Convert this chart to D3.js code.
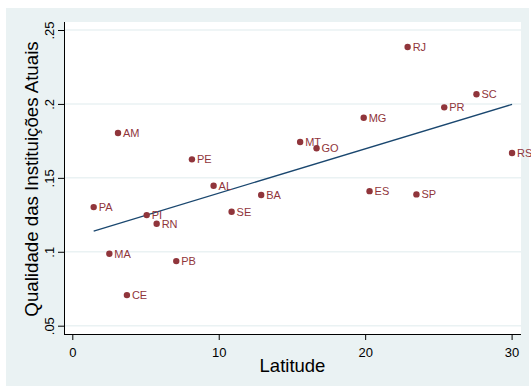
<!DOCTYPE html>
<html>
<head>
<meta charset="utf-8">
<script src="https://cdn.jsdelivr.net/npm/d3@7"></script>
<style>
  body { margin: 0; background: #fff; }
  text { font-family: "Liberation Sans", Arial, sans-serif; }
</style>
</head>
<body>
<div id="chart"></div>
<script>
// state abbreviations, latitude and quality of current institutions
const states   = ["RJ", "SC", "PR", "MG", "MT", "GO", "RS", "BA", "ES", "SP",
                  "AM", "PE", "AL", "PA", "PI", "RN", "SE", "MA", "PB", "CE"];
const latitude = [22.9, 27.6, 25.4, 19.9, 15.56, 16.68, 30.03, 12.9, 20.3, 23.5,
                  3.12, 8.17, 9.65, 1.46, 5.08, 5.76, 10.88, 2.53, 7.1, 3.73];
const quality  = [.2385, .2065, .1977, .1907, .1742, .170, .1668, .1384, .141, .1388,
                  .1803, .1625, .1447, .1302, .1248, .119, .1271, .0987, .0937, .0707];

// fitted line endpoints
const fitX = [1.46, 30.03];
const fitY = [.114, .1997];

const xTicks = [0, 10, 20, 30];
const yTicks = [.05, .1, .15, .2, .25];
const yTickLabels = [".05", ".1", ".15", ".2", ".25"];

const W = 531, H = 387;
const plot = { left: 64, right: 521, top: 22, bottom: 334 };

const svg = d3.select("#chart")
    .append("svg")
    .attr("width", W)
    .attr("height", H);

// outer background
svg.append("rect")
    .attr("x", 6).attr("y", 8)
    .attr("width", 523).attr("height", 378)
    .attr("fill", "#eaf2f3");

// plot region
svg.append("rect")
    .attr("x", plot.left).attr("y", plot.top)
    .attr("width", plot.right - plot.left)
    .attr("height", plot.bottom - plot.top)
    .attr("fill", "#fff");

const x = d3.scaleLinear().domain([0, 30]).range([72.3, 511.6]);
const y = d3.scaleLinear().domain([.05, .25]).range([325.7, 30]);

// grid lines
svg.append("g")
    .selectAll("line")
    .data(yTicks)
    .enter()
    .append("line")
    .attr("x1", plot.left).attr("x2", plot.right)
    .attr("y1", d => y(d)).attr("y2", d => y(d))
    .attr("stroke", "#eaf2f3")
    .attr("stroke-width", 1.5);

// x axis
const xAxis = svg.append("g")
    .attr("transform", `translate(0,${plot.bottom})`)
    .call(d3.axisBottom(x).tickValues(xTicks).tickSize(6).tickPadding(8).tickSizeOuter(0));
xAxis.select(".domain").attr("d", `M${plot.left},0.5H${plot.right}`);
xAxis.selectAll("text").style("font-size", "13px").attr("fill", "#000");

// y axis
const yAxis = svg.append("g")
    .attr("transform", `translate(${plot.left},0)`)
    .call(d3.axisLeft(y).tickValues(yTicks).tickFormat((d, i) => yTickLabels[i]).tickSize(6).tickSizeOuter(0));
yAxis.select(".domain").attr("d", `M0.5,${plot.top}V${plot.bottom}`);
yAxis.selectAll("text")
    .style("font-size", "13px")
    .attr("fill", "#000")
    .attr("text-anchor", "middle")
    .attr("x", null)
    .attr("dy", null)
    .attr("transform", "translate(-10,0) rotate(-90)");

// fitted line
svg.append("line")
    .attr("x1", x(fitX[0])).attr("y1", y(fitY[0]))
    .attr("x2", x(fitX[1])).attr("y2", y(fitY[1]))
    .attr("stroke", "#1a476f")
    .attr("stroke-width", 1.3);

// points and labels
const pts = states.map((s, i) => ({ s: s, lat: latitude[i], q: quality[i] }));

svg.append("g")
    .selectAll("circle")
    .data(pts)
    .enter()
    .append("circle")
    .attr("cx", d => x(d.lat))
    .attr("cy", d => y(d.q))
    .attr("r", 3.2)
    .attr("fill", "#90353b");

svg.append("g")
    .selectAll("text")
    .data(pts)
    .enter()
    .append("text")
    .attr("x", d => x(d.lat) + 5)
    .attr("y", d => y(d.q))
    .attr("dy", "0.36em")
    .style("font-size", "11px")
    .attr("fill", "#90353b")
    .text(d => d.s);

// axis titles
svg.append("text")
    .attr("x", (plot.left + plot.right) / 2)
    .attr("y", 372)
    .attr("text-anchor", "middle")
    .style("font-size", "18.5px")
    .text("Latitude");

svg.append("text")
    .attr("transform", `translate(38,${(plot.top + plot.bottom) / 2 + 1}) rotate(-90)`)
    .attr("text-anchor", "middle")
    .style("font-size", "18.7px")
    .text("Qualidade das Instituições Atuais");
</script>
</body>
</html>
